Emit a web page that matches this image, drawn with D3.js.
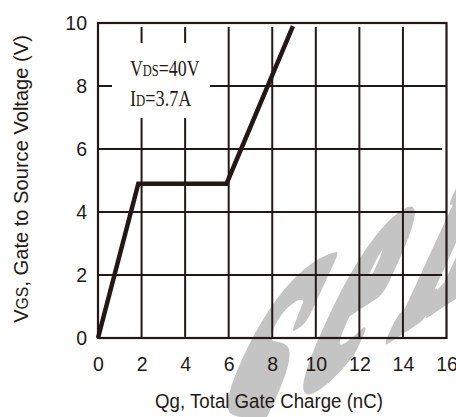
<!DOCTYPE html>
<html>
<head>
<meta charset="utf-8">
<script src="https://cdn.jsdelivr.net/npm/d3@7"></script>
<style>
  html, body { margin: 0; padding: 0; background: #ffffff; }
  svg { display: block; }
</style>
</head>
<body>
<script>
// Gate charge curve: VGS versus total gate charge Qg
const charge = [0, 1.85, 5.9, 8.95];   // Qg (nC)
const gateV  = [0, 4.9, 4.9, 9.9];     // VGS (V)

const xTicks = [0, 2, 4, 6, 8, 10, 12, 14, 16];
const xTickLabels = ["0", "2", "4", "6", "8", "10", "12", "14", "16"];
const yTicks = [0, 2, 4, 6, 8, 10];
const yTickLabels = ["0", "2", "4", "6", "8", "10"];

const W = 456, H = 417;
const ink = "#231815";
const sans = "'Liberation Sans', Arial, sans-serif";
const serif = "'Liberation Serif', 'Times New Roman', serif";

const svg = d3.select("body").append("svg")
  .attr("width", W).attr("height", H);

const x = d3.scaleLinear().domain([0, 16]).range([98, 446.5]);
const y = d3.scaleLinear().domain([0, 10]).range([338, 23]);

// Stretch a text element so that its width equals `target` px
function fit(textSel, target) {
  const w = textSel.node().getBBox().width;
  textSel.attr("transform", `scale(${target / w},1)`);
}

// ---- light grey watermark lettering behind the grid ----
const wmGrey = "#c4c4c4";
const wm = svg.append("g")
  .attr("fill", wmGrey).attr("stroke", wmGrey).attr("stroke-width", 7)
  .attr("stroke-linejoin", "round")
  .attr("font-family", serif).attr("font-weight", "bold").attr("font-size", 100);
const ux = 0.833, uy = -0.552, wx = 0.42, wy = -0.91, sx = 1.7, sy = 3.6;
[["S", 206, 492], ["e", 322, 378], ["m", 448, 296]].forEach(([ch, bx, by]) => {
  wm.append("text")
    .attr("text-anchor", "middle")
    .attr("transform", `matrix(${sx*ux},${sx*uy},${-sy*wx},${-sy*wy},${bx},${by})`)
    .text(ch);
});

// ---- grid ----
const grid = svg.append("g").attr("stroke", ink).attr("stroke-width", 2).attr("fill", "none");
const noteBox = { x0: 112, x1: 210, y0: 43, y1: 118 };   // area kept clear for the test conditions

xTicks.filter(d => d > 0 && d < 16).forEach(d => {
  const px = x(d);
  const top = y(9.87), bot = y(0);
  if (px > noteBox.x0 && px < noteBox.x1) {
    grid.append("line").attr("x1", px).attr("x2", px).attr("y1", top).attr("y2", noteBox.y0);
    grid.append("line").attr("x1", px).attr("x2", px).attr("y1", noteBox.y1).attr("y2", bot);
  } else {
    grid.append("line").attr("x1", px).attr("x2", px).attr("y1", top).attr("y2", bot);
  }
});

yTicks.filter(d => d > 0 && d < 10).forEach(d => {
  const py = y(d);
  const left = x(0);
  const right = (d === 2 || d === 6) ? x(15.8) : x(16);
  if (py > noteBox.y0 && py < noteBox.y1) {
    grid.append("line").attr("x1", left).attr("x2", noteBox.x0).attr("y1", py).attr("y2", py);
    grid.append("line").attr("x1", noteBox.x1).attr("x2", right).attr("y1", py).attr("y2", py);
  } else {
    grid.append("line").attr("x1", left).attr("x2", right).attr("y1", py).attr("y2", py);
  }
});

// ---- frame ----
svg.append("rect")
  .attr("x", x(0)).attr("y", y(10))
  .attr("width", x(16) - x(0)).attr("height", y(0) - y(10))
  .attr("fill", "none").attr("stroke", ink).attr("stroke-width", 2.2);

// ---- curve ----
const line = d3.line().x(d => x(d[0])).y(d => y(d[1]));
svg.append("path")
  .datum(charge.map((q, i) => [q, gateV[i]]))
  .attr("d", line)
  .attr("fill", "none").attr("stroke", ink)
  .attr("stroke-width", 4.5).attr("stroke-linejoin", "miter");

// ---- axes (tick labels only) ----
const yAxis = svg.append("g")
  .attr("transform", `translate(${x(0)},0)`)
  .call(d3.axisLeft(y).tickValues(yTicks)
    .tickFormat((d, i) => yTickLabels[i]).tickSize(0).tickPadding(11));
const xAxis = svg.append("g")
  .attr("transform", `translate(0,${y(0)})`)
  .call(d3.axisBottom(x).tickValues(xTicks)
    .tickFormat((d, i) => xTickLabels[i]).tickSize(0).tickPadding(19.5));
[yAxis, xAxis].forEach(a => {
  a.select(".domain").remove();
  a.attr("font-family", sans).attr("font-size", 19.5);
  a.selectAll("text").attr("fill", ink);
});

// ---- axis titles ----
const xt = svg.append("g").attr("transform", "translate(269,408)")
  .append("text").attr("text-anchor", "middle")
  .attr("font-family", sans).attr("font-size", 21).attr("fill", ink)
  .text("Qg, Total Gate Charge (nC)");
fit(xt, 228);

const yt = svg.append("g").attr("transform", "translate(28,179) rotate(-90)")
  .append("text").attr("text-anchor", "middle")
  .attr("font-family", sans).attr("font-size", 21).attr("fill", ink);
yt.append("tspan").text("V");
yt.append("tspan").attr("font-size", 16.5).text("GS");
yt.append("tspan").text(", Gate to Source Voltage (V)");
fit(yt, 288);

// ---- test conditions ----
function note(px, py, main, sub, rest, width) {
  const t = svg.append("g").attr("transform", `translate(${px},${py})`)
    .append("text").attr("font-family", serif).attr("font-size", 24).attr("fill", ink);
  t.append("tspan").text(main);
  t.append("tspan").attr("font-size", 16.8).text(sub);
  t.append("tspan").text(rest);
  fit(t, width);
}
note(130, 76, "V", "DS", "=40V", 70);
note(130, 105.7, "I", "D", "=3.7A", 62);
</script>
</body>
</html>
